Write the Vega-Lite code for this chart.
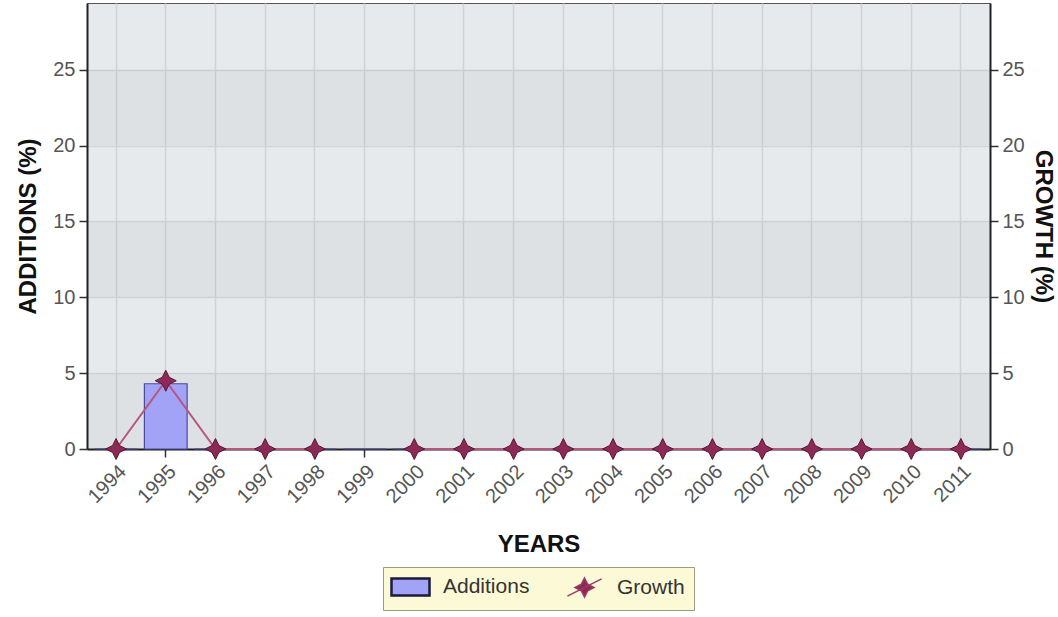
{
  "$schema": "https://vega.github.io/schema/vega-lite/v6.json",
  "width": 903,
  "height": 446,
  "autosize": {"type": "none"},
  "padding": {"left": 87, "top": 3, "right": 68, "bottom": 168},
  "background": "white",
  "config": {
    "font": "Liberation Sans",
    "view": {"fill": "#e7eaed", "stroke": "#555555", "strokeWidth": 1},
    "axis": {
      "labelFont": "Liberation Sans",
      "labelFontSize": 20,
      "labelColor": "#555555",
      "titleFont": "Liberation Sans",
      "titleFontSize": 24,
      "titleFontWeight": "bold",
      "titleColor": "#111111",
      "domainColor": "#222222",
      "domainWidth": 2,
      "tickColor": "#333333",
      "tickSize": 8,
      "tickWidth": 1.5
    }
  },
  "datasets": {
    "main": [
      {"year": "1994", "additions": 0, "growth": 0},
      {"year": "1995", "additions": 4.3, "growth": 4.5},
      {"year": "1996", "additions": 0, "growth": 0},
      {"year": "1997", "additions": 0, "growth": 0},
      {"year": "1998", "additions": 0, "growth": 0},
      {"year": "1999", "additions": 0, "growth": null},
      {"year": "2000", "additions": 0, "growth": 0},
      {"year": "2001", "additions": 0, "growth": 0},
      {"year": "2002", "additions": 0, "growth": 0},
      {"year": "2003", "additions": 0, "growth": 0},
      {"year": "2004", "additions": 0, "growth": 0},
      {"year": "2005", "additions": 0, "growth": 0},
      {"year": "2006", "additions": 0, "growth": 0},
      {"year": "2007", "additions": 0, "growth": 0},
      {"year": "2008", "additions": 0, "growth": 0},
      {"year": "2009", "additions": 0, "growth": 0},
      {"year": "2010", "additions": 0, "growth": 0},
      {"year": "2011", "additions": 0, "growth": 0}
    ],
    "bands": [
      {"lo": 0, "hi": 5},
      {"lo": 10, "hi": 15},
      {"lo": 20, "hi": 25}
    ]
  },
  "layer": [
    {
      "layer": [
        {
          "data": {"name": "bands"},
          "mark": {"type": "rect", "fill": "#000000", "opacity": 0.035},
          "encoding": {
            "y": {"field": "lo", "type": "quantitative", "scale": {"domain": [0, 29.4], "nice": false},
              "axis": {"title": "ADDITIONS (%)", "values": [0, 5, 10, 15, 20, 25], "grid": true, "gridColor": "#d2d5d8", "gridWidth": 1.5, "titlePadding": 12, "labelPadding": 4}},
            "y2": {"field": "hi"}
          }
        },
        {
          "data": {"name": "main"},
          "mark": {"type": "bar", "stroke": "#4b4b9c", "strokeWidth": 1.2},
          "encoding": {
            "x": {"field": "year", "type": "ordinal",
              "scale": {"type": "band", "paddingInner": 0.14, "paddingOuter": 0.155},
              "axis": {"title": "YEARS", "labelAngle": -45, "grid": true, "gridColor": "#cfd3d7", "gridWidth": 1.5, "titlePadding": 26, "labelPadding": 4}},
            "y": {"field": "additions", "type": "quantitative", "scale": {"domain": [0, 29.4], "nice": false},
              "axis": {"title": "ADDITIONS (%)", "values": [0, 5, 10, 15, 20, 25], "grid": true, "gridColor": "#d2d5d8", "gridWidth": 1.5, "titlePadding": 12, "labelPadding": 4}},
            "color": {
              "datum": "Additions",
              "type": "nominal",
              "scale": {"domain": ["Additions", "Growth"], "range": ["#a2a2f7", "#8c2a57"]},
              "legend": {
                "title": null,
                "orient": "none",
                "legendX": 296,
                "legendY": 564,
                "direction": "horizontal",
                "fillColor": "#fbf9d6",
                "strokeColor": "#9a9a80",
                "padding": 9,
                "symbolSize": 1444,
                "symbolOffset": 8,
                "symbolStrokeWidth": 2,
                "symbolStrokeColor": "#222244",
                "labelFont": "Liberation Sans",
                "labelFontSize": 21,
                "labelColor": "#333333",
                "labelOffset": 22,
                "columnPadding": 34,
                "encode": {
                  "symbols": {
                    "update": {
                      "shape": {"signal": "datum.value === 'Additions' ? 'M-1,-0.45H1V0.45H-1Z' : 'M0,-0.5L0.17,-0.17L0.5,0L0.17,0.17L0,0.5L-0.17,0.17L-0.5,0L-0.17,-0.17Z M-0.9,0.45L0.9,-0.45'"},
                      "strokeWidth": {"signal": "datum.value === 'Additions' ? 2.5 : 1.5"},
                      "stroke": {"signal": "datum.value === 'Additions' ? '#1a1a3a' : '#9c3a66'"}
                    }
                  }
                }
              }
            }
          }
        }
      ]
    },
    {
      "data": {"name": "main"},
      "layer": [
        {
          "mark": {"type": "line", "color": "#b5577f", "strokeWidth": 2},
          "encoding": {
            "x": {"field": "year", "type": "ordinal",
              "scale": {"type": "band", "paddingInner": 0.14, "paddingOuter": 0.155},
              "axis": {"title": "YEARS", "labelAngle": -45, "grid": true, "gridColor": "#cfd3d7", "gridWidth": 1.5, "titlePadding": 26, "labelPadding": 4}},
            "y": {"field": "growth", "type": "quantitative", "scale": {"domain": [0, 29.4], "nice": false},
              "axis": {"orient": "right", "title": "GROWTH (%)", "values": [0, 5, 10, 15, 20, 25], "grid": false, "titlePadding": 6, "labelPadding": 4}}
          }
        },
        {
          "mark": {"type": "point", "filled": true, "opacity": 1, "size": 440, "stroke": "#5b1533", "strokeWidth": 1,
            "shape": "M0,-1L0.33,-0.33L1,0L0.33,0.33L0,1L-0.33,0.33L-1,0L-0.33,-0.33Z"},
          "encoding": {
            "x": {"field": "year", "type": "ordinal",
              "scale": {"type": "band", "paddingInner": 0.14, "paddingOuter": 0.155},
              "axis": {"title": "YEARS", "labelAngle": -45, "grid": true, "gridColor": "#cfd3d7", "gridWidth": 1.5, "titlePadding": 26, "labelPadding": 4}},
            "y": {"field": "growth", "type": "quantitative", "scale": {"domain": [0, 29.4], "nice": false},
              "axis": {"orient": "right", "title": "GROWTH (%)", "values": [0, 5, 10, 15, 20, 25], "grid": false, "titlePadding": 6, "labelPadding": 4}},
            "color": {"datum": "Growth", "type": "nominal"}
          }
        }
      ]
    }
  ],
  "resolve": {"scale": {"y": "independent"}}
}
